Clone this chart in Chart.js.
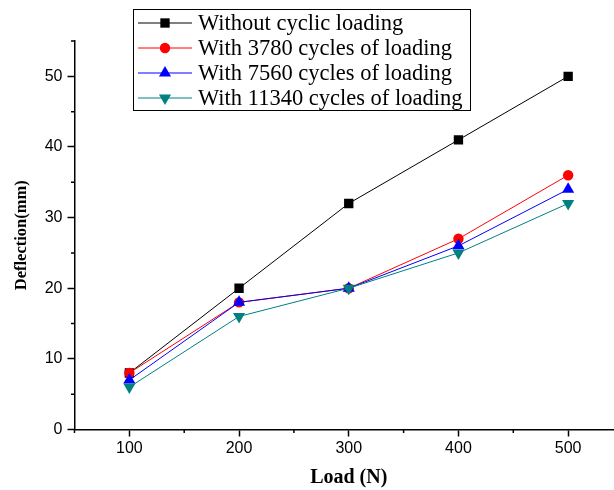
<!DOCTYPE html>
<html>
<head>
<meta charset="utf-8">
<script src="https://cdn.jsdelivr.net/npm/chart.js@4/dist/chart.umd.min.js"></script>
<style>
  html, body { margin: 0; padding: 0; background: #fff; overflow: hidden; }
  #wrap { width: 630px; height: 490px; }
</style>
</head>
<body>
<div id="wrap"><canvas id="chart" width="630" height="490"></canvas></div>
<script>
// Load (N) on the x axis
const loads = [100, 200, 300, 400, 500];

// Deflection (mm) for each loading history
const withoutCyclic = [8, 20, 32, 41, 50];
const cycles3780 = [8, 18, 20, 27, 36];
const cycles7560 = [7, 18, 20, 26, 34];
const cycles11340 = [6, 16, 20, 25, 32];

const seriesLabels = [
    'Without cyclic loading',
    'With 3780 cycles of loading',
    'With 7560 cycles of loading',
    'With 11340 cycles of loading'
];

const serif = '"Liberation Serif", "Times New Roman", serif';
const sans = '"Liberation Sans", Arial, sans-serif';

function toPoints(values) {
    return loads.map((x, i) => ({ x: x, y: values[i] }));
}

function series(label, values, color, style, radius, rotation, order) {
    return {
        label: label,
        data: toPoints(values),
        borderColor: color,
        backgroundColor: color,
        borderWidth: 1,
        pointStyle: style,
        pointRadius: radius,
        pointRotation: rotation,
        pointBorderWidth: 0,
        pointBackgroundColor: color,
        order: order
    };
}

// Origin-style minor ticks (short, outward) between the labelled ones
const minorTicks = {
    id: 'minorTicks',
    afterDraw(chart) {
        const ctx = chart.ctx;
        const xs = chart.scales.x, ys = chart.scales.y;
        ctx.save();
        ctx.strokeStyle = '#000';
        ctx.lineWidth = 1.5;
        ctx.beginPath();
        for (let v = 50; v <= 550; v += 100) {
            const px = xs.getPixelForValue(v);
            ctx.moveTo(px, xs.top);
            ctx.lineTo(px, xs.top + 3.5);
        }
        for (let v = 5; v <= 55; v += 10) {
            const py = ys.getPixelForValue(v);
            ctx.moveTo(ys.right, py);
            ctx.lineTo(ys.right - 3.5, py);
        }
        ctx.stroke();
        ctx.restore();
    }
};

// Boxed legend with a line sample through each marker
const boxLegend = {
    id: 'boxLegend',
    afterDraw(chart) {
        const ctx = chart.ctx;
        const left = 133.5, top = 9.5, width = 337, height = 101;
        ctx.save();
        ctx.fillStyle = '#fff';
        ctx.fillRect(left, top, width, height);
        ctx.strokeStyle = '#000';
        ctx.lineWidth = 1;
        ctx.strokeRect(left, top, width, height);
        chart.data.datasets.forEach((ds, i) => {
            const y = 23 + i * 25;
            ctx.strokeStyle = ds.borderColor;
            ctx.lineWidth = 1;
            ctx.beginPath();
            ctx.moveTo(138, y);
            ctx.lineTo(192, y);
            ctx.stroke();
            ctx.fillStyle = ds.pointBackgroundColor;
            Chart.helpers.drawPoint(ctx, {
                pointStyle: ds.pointStyle,
                radius: ds.pointRadius,
                rotation: ds.pointRotation,
                borderWidth: 0
            }, 165, y);
            ctx.fillStyle = '#000';
            ctx.font = '22.5px ' + serif;
            ctx.textBaseline = 'middle';
            ctx.textAlign = 'left';
            ctx.fillText(ds.label, 198, y + 1);
        });
        ctx.restore();
    }
};

const ctx = document.getElementById('chart').getContext('2d');
new Chart(ctx, {
    type: 'line',
    data: {
        datasets: [
            series(seriesLabels[0], withoutCyclic, '#000000', 'rect', 6.6, 0, 4),
            series(seriesLabels[1], cycles3780, '#ff0000', 'circle', 5.2, 0, 3),
            series(seriesLabels[2], cycles7560, '#0000ff', 'triangle', 7, 0, 2),
            series(seriesLabels[3], cycles11340, '#008080', 'triangle', 7, 180, 1)
        ]
    },
    plugins: [minorTicks, boxLegend],
    options: {
        responsive: false,
        animation: false,
        layout: { padding: { left: 0, right: 7, top: 41, bottom: 0 } },
        plugins: {
            legend: { display: false },
            tooltip: { enabled: false }
        },
        scales: {
            x: {
                type: 'linear',
                min: 50,
                max: 550,
                afterFit(scale) { scale.height = 60.5; },
                border: { display: true, color: '#000', width: 1.5 },
                grid: {
                    drawOnChartArea: false,
                    tickLength: 7,
                    tickWidth: 1.5,
                    tickColor: c => (c.tick && c.tick.value % 100 === 0) ? '#000' : 'rgba(0,0,0,0)'
                },
                ticks: {
                    stepSize: 50,
                    autoSkip: false,
                    maxRotation: 0,
                    padding: 2,
                    color: '#000',
                    font: { family: sans, size: 16 },
                    callback: v => (v % 100 === 0 ? v : '')
                },
                title: {
                    display: true,
                    text: 'Load (N)',
                    color: '#000',
                    font: { family: serif, size: 20, weight: 'bold' },
                    padding: { top: 7, bottom: 0 }
                }
            },
            y: {
                min: 0,
                max: 55,
                afterFit(scale) { scale.width = 74.5; },
                border: { display: true, color: '#000', width: 1.5 },
                grid: {
                    drawOnChartArea: false,
                    tickLength: 7,
                    tickWidth: 1.5,
                    tickColor: c => (c.tick && c.tick.value % 10 === 0) ? '#000' : 'rgba(0,0,0,0)'
                },
                ticks: {
                    stepSize: 5,
                    autoSkip: false,
                    padding: 5,
                    color: '#000',
                    font: { family: sans, size: 16 },
                    callback: v => (v % 10 === 0 ? v : '')
                },
                title: {
                    display: true,
                    text: 'Deflection(mm)',
                    color: '#000',
                    font: { family: serif, size: 16.5, weight: 'bold' },
                    padding: { top: 12, bottom: 0 }
                }
            }
        }
    }
});
</script>
</body>
</html>
